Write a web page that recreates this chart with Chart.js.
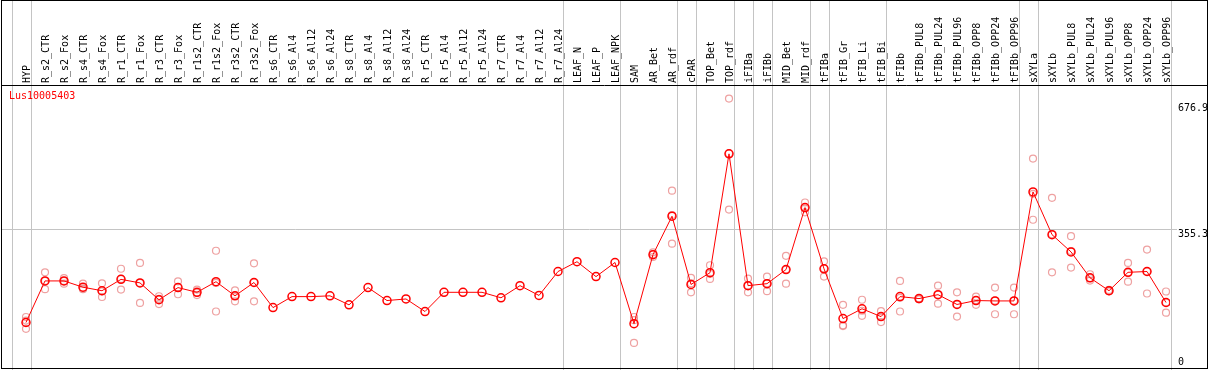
<!DOCTYPE html>
<html>
<head>
<meta charset="utf-8">
<script src="https://cdn.jsdelivr.net/npm/chart.js@4/dist/chart.umd.min.js"></script>
<style>
  html, body { margin: 0; padding: 0; background: #fff; }
  #wrap { width: 1209px; height: 370px; position: relative; }
</style>
</head>
<body>
<div id="wrap"><canvas id="chart"></canvas></div>
<script>
const geneName = 'Lus10005403';

const samples = [
  'HYP', 'R_s2_CTR', 'R_s2_Fox', 'R_s4_CTR', 'R_s4_Fox', 'R_r1_CTR', 'R_r1_Fox',
  'R_r3_CTR', 'R_r3_Fox', 'R_r1s2_CTR', 'R_r1s2_Fox', 'R_r3s2_CTR', 'R_r3s2_Fox',
  'R_s6_CTR', 'R_s6_Al4', 'R_s6_Al12', 'R_s6_Al24', 'R_s8_CTR', 'R_s8_Al4',
  'R_s8_Al12', 'R_s8_Al24', 'R_r5_CTR', 'R_r5_Al4', 'R_r5_Al12', 'R_r5_Al24',
  'R_r7_CTR', 'R_r7_Al4', 'R_r7_Al12', 'R_r7_Al24', 'LEAF_N', 'LEAF_P', 'LEAF_NPK',
  'SAM', 'AR_Bet', 'AR_rdf', 'cPAR', 'TOP_Bet', 'TOP_rdf', 'iFIBa', 'iFIBb',
  'MID_Bet', 'MID_rdf', 'tFIBa', 'tFIB_Gr', 'tFIB_Li', 'tFIB_Bi', 'tFIBb',
  'tFIBb_PUL8', 'tFIBb_PUL24', 'tFIBb_PUL96', 'tFIBb_OPP8', 'tFIBb_OPP24', 'tFIBb_OPP96',
  'sXYLa', 'sXYLb', 'sXYLb_PUL8', 'sXYLb_PUL24', 'sXYLb_PUL96', 'sXYLb_OPP8',
  'sXYLb_OPP24', 'sXYLb_OPP96'
];

// mean expression per sample
const means = [
  116, 222, 222, 206, 197, 226, 217, 174, 205, 193, 220, 184, 218,
  154, 182, 182, 184, 161, 205, 172, 176, 144, 193, 193, 193, 179, 210, 185, 246,
  271, 233, 269,
  113, 289, 387, 213, 243, 546, 210, 215, 251, 409, 253, 126, 151, 131, 182,
  177, 187, 162, 172, 171, 171,
  449, 340, 296, 230, 197, 244, 246, 167
];

// individual replicates (null = no replicate shown)
const rep1 = [
  130, 244, 229, 215, 216, 253, 268, 183, 221, 200, 299, 198, 267,
  null, null, null, null, null, null, null, null, null, null, null, null, null, null, null, null,
  null, null, null,
  130, 295, 452, 230, 262, 687, 228, 233, 286, 422, 272, 161, 174, 145, 222,
  178, 210, 193, 182, 205, 205,
  534, 434, 336, 239, 199, 268, 302, 195
];
const rep2 = [
  100, 201, 215, 201, 181, 200, 166, 163, 188, 186, 144, 170, 170,
  null, null, null, null, null, null, null, null, null, null, null, null, null, null, null, null,
  null, null, null,
  64, 283, 317, 193, 227, 404, 193, 196, 215, 397, 233, 107, 133, 117, 144,
  175, 164, 131, 161, 137, 137,
  378, 244, 256, 223, 196, 220, 190, 141
];
const rep3 = [
  121, 222, 222, 203, 195, 227, 217, 176, 206, 192, 217, 184, 218,
  null, null, null, null, null, null, null, null, null, null, null, null, null, null, null, null,
  null, null, null,
  122, 290, 390, 216, 240, 547, 210, 216, 251, 407, 254, 109, 146, 131, 179,
  176, 187, 162, 173, 172, 172,
  444, 341, 298, 229, 196, 243, 246, 167
];

// index of the last sample in each group (separator drawn after it)
const groupEnds = [-1, 0, 28, 31, 34, 35, 37, 38, 39, 41, 42, 45, 52, 53, 60];
const yTicks = [0, 355.3, 676.9];
const yGrid = [355.3];

const toPoints = (arr) => arr.map((v, i) => ({ x: i, y: v }));
const FONT = '10px "DejaVu Sans Mono", monospace';
const GRID = '#c4c4c4';

const framePlugin = {
  id: 'frame',
  beforeDraw(chart) {
    const { ctx, chartArea, scales } = chart;
    const W = chart.width;
    const H = chart.height;
    ctx.save();
    ctx.fillStyle = '#fff';
    ctx.fillRect(0, 0, W, H);
    ctx.strokeStyle = GRID;
    ctx.lineWidth = 1;
    groupEnds.forEach((g) => {
      const x = Math.round(scales.x.getPixelForValue(g + 0.24)) + 0.5;
      ctx.beginPath();
      ctx.moveTo(x, 0);
      ctx.lineTo(x, H);
      ctx.stroke();
    });
    yGrid.forEach((v) => {
      const y = Math.round(scales.y.getPixelForValue(v)) + 0.5;
      ctx.beginPath();
      ctx.moveTo(chartArea.left, y);
      ctx.lineTo(1177, y);
      ctx.stroke();
    });
    ctx.restore();
  },
  afterDraw(chart) {
    const { ctx, chartArea, scales } = chart;
    const W = chart.width;
    ctx.save();
    ctx.font = FONT;
    ctx.fillStyle = '#000';
    // sample names, rotated
    samples.forEach((s, i) => {
      const x = scales.x.getPixelForValue(i) + 4;
      ctx.save();
      ctx.translate(x, 83);
      ctx.rotate(-Math.PI / 2);
      ctx.textAlign = 'left';
      ctx.textBaseline = 'alphabetic';
      ctx.fillText(s, 0, 0);
      ctx.restore();
    });
    // y tick labels on the right
    ctx.textAlign = 'left';
    ctx.textBaseline = 'top';
    yTicks.forEach((v) => {
      const y = Math.min(scales.y.getPixelForValue(v) + 1, chartArea.bottom - 11);
      ctx.fillText(String(v), 1178, y);
    });
    // gene name
    ctx.fillStyle = '#ff0000';
    ctx.fillText(geneName, 9, 91);
    // frame
    ctx.strokeStyle = '#000';
    ctx.lineWidth = 1;
    ctx.strokeRect(1.5, 0.5, W - 3, 368);
    ctx.beginPath();
    ctx.moveTo(1, 85.5);
    ctx.lineTo(W - 1, 85.5);
    ctx.stroke();
    ctx.restore();
  },
};

const repStyle = {
  showLine: false,
  borderColor: 'rgba(232, 130, 130, 0.75)',
  backgroundColor: 'rgba(0,0,0,0)',
  pointRadius: 3.5,
  pointBorderWidth: 1.2,
};

new Chart(document.getElementById('chart'), {
  type: 'line',
  data: {
    datasets: [
      {
        label: 'mean',
        data: toPoints(means),
        borderColor: '#ff0000',
        borderWidth: 1,
        backgroundColor: 'rgba(0,0,0,0)',
        pointBorderColor: '#ff0000',
        pointRadius: 4,
        pointBorderWidth: 1.5,
        tension: 0,
      },
      { label: 'rep1', data: toPoints(rep1), ...repStyle },
      { label: 'rep2', data: toPoints(rep2), ...repStyle },
      { label: 'rep3', data: toPoints(rep3), ...repStyle },
    ],
  },
  options: {
    responsive: true,
    maintainAspectRatio: false,
    animation: false,
    layout: {
      autoPadding: false,
      padding: { left: 2, right: 39, top: 86, bottom: 2 },
    },
    scales: {
      x: { type: 'linear', display: false, min: -1.263, max: 60.21 },
      y: { type: 'linear', display: false, min: 0, max: 719 },
    },
    plugins: {
      legend: { display: false },
      tooltip: { enabled: false },
    },
  },
  plugins: [framePlugin],
});
</script>
</body>
</html>
